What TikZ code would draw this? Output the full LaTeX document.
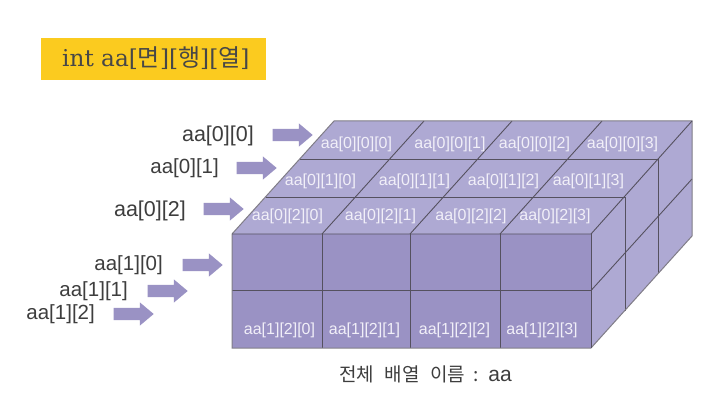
\documentclass[tikz,border=0pt]{standalone}
\usepackage{fontspec}
\setmainfont{Liberation Sans}
\newfontfamily\kor{Noto Sans CJK KR}
\newfontfamily\titleserif{DejaVu Serif}
\usetikzlibrary{shapes.arrows}
\definecolor{frontc}{HTML}{9A92C4}
\definecolor{topc}{HTML}{AEA9D3}
\definecolor{linec}{HTML}{55515F}
\definecolor{titlec}{HTML}{FBCB1F}
\definecolor{textc}{HTML}{3E3E3E}
\definecolor{celltext}{HTML}{F1EFF8}
\newcommand{\kt}[1]{{\kor\fontsize{24}{26}\selectfont #1}}
\tikzset{
  grid line/.style={draw=linec,line width=0.9pt},
  cell/.style={text=celltext,font=\fontsize{16}{17}\selectfont,inner sep=0pt,anchor=center,yshift=-1pt},
  idx/.style={text=textc,font=\fontsize{20.5}{22}\selectfont,inner sep=0pt,anchor=east,yshift=-1.5pt},
  idxwide/.style={idx,font=\fontsize{21.5}{23}\selectfont},
  blockarrow/.style={single arrow,fill=frontc,draw=none,minimum height=40pt,minimum width=23pt,
    single arrow tip angle=80,single arrow head extend=5.5pt,single arrow head indent=0pt,inner xsep=0pt,inner ysep=6pt,anchor=center},
}
\begin{document}
\begin{tikzpicture}[x=1pt,y=-1pt]
\useasboundingbox (0,0) rectangle (725,401);
\fill[white] (0,0) rectangle (725,401);
% title
\node[fill=titlec,minimum width=225pt,minimum height=42pt,inner sep=0pt,anchor=center] (title) at (153.5,59) {};
\node[text=black!72,font=\titleserif\fontsize{23.2}{25}\selectfont,inner sep=0pt,anchor=west] (titletext) at (62,58) {int aa[\kt{면}][\kt{행}][\kt{열}]};
% faces
\fill[frontc] (232,234) rectangle (591,348);
\fill[topc] (232,234) -- (334,121) -- (692,121) -- (591,234) -- cycle;
\fill[topc] (591,234) -- (692,121) -- (692,236) -- (591,348) -- cycle;
% front grid
\foreach \x in {322,410,500} \draw[grid line] (\x,234) -- (\x,348);
\draw[grid line] (232,290.5) -- (591,290.5);
% top grid
\draw[grid line] (266,197) -- (625,197);
\draw[grid line] (300,159) -- (658,159);
\draw[grid line] (322,234) -- (424,121);
\draw[grid line] (410,234) -- (512,121);
\draw[grid line] (500,234) -- (602,121);
% side grid
\draw[grid line] (625,197) -- (625,311);
\draw[grid line] (658,159) -- (658,273);
\draw[grid line] (591,290.5) -- (692,179);
% outline
\draw[grid line,draw=linec!75,line width=1pt] (232,234) -- (334,121) -- (692,121) -- (692,236) -- (591,348) -- (232,348) -- cycle;
\draw[grid line] (232,234) -- (591,234) -- (692,121);
\draw[grid line] (591,234) -- (591,348);
% top cell labels
\node[cell] (c000) at (356.5,143) {aa[0][0][0]};
\node[cell] (c001) at (450,143) {aa[0][0][1]};
\node[cell] (c002) at (534.5,143) {aa[0][0][2]};
\node[cell] (c003) at (622.5,143) {aa[0][0][3]};
\node[cell] (c010) at (320.5,180) {aa[0][1][0]};
\node[cell] (c011) at (414.5,180) {aa[0][1][1]};
\node[cell] (c012) at (503.5,180) {aa[0][1][2]};
\node[cell] (c013) at (588.5,180) {aa[0][1][3]};
\node[cell] (c020) at (287.5,215) {aa[0][2][0]};
\node[cell] (c021) at (380.5,215) {aa[0][2][1]};
\node[cell] (c022) at (471,215) {aa[0][2][2]};
\node[cell] (c023) at (555,215) {aa[0][2][3]};
\node[cell] (c120) at (279.5,329) {aa[1][2][0]};
\node[cell] (c121) at (364.5,329) {aa[1][2][1]};
\node[cell] (c122) at (454.5,329) {aa[1][2][2]};
\node[cell] (c123) at (542,329) {aa[1][2][3]};
% index labels
\node[idxwide] (l00) at (254,134) {aa[0][0]};
\node[idx] (l01) at (219,167) {aa[0][1]};
\node[idxwide] (l02) at (186,209) {aa[0][2]};
\node[idx] (l10) at (163,264) {aa[1][0]};
\node[idx] (l11) at (128,290) {aa[1][1]};
\node[idx] (l12) at (95,313) {aa[1][2]};
% arrows
\node[blockarrow] (a00) at (289,135) {};
\node[blockarrow] (a01) at (253,168) {};
\node[blockarrow] (a02) at (220,209) {};
\node[blockarrow] (a10) at (199,265) {};
\node[blockarrow] (a11) at (164,291) {};
\node[blockarrow] (a12) at (130,314) {};
% caption
\node[text=textc,font=\fontsize{21}{23}\selectfont,inner sep=0pt,anchor=west] (cap) at (339,374) {{\kor\fontsize{19}{21}\selectfont 전체\hspace{10.5pt}배열\hspace{10.5pt}이름\hspace{8pt}:}\hspace{10pt}aa};
\end{tikzpicture}
\end{document}
